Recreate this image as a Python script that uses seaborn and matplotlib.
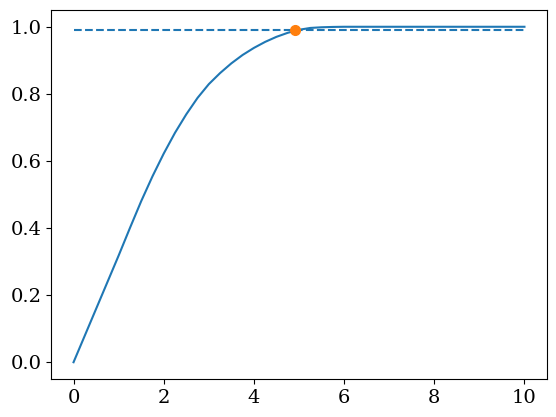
import matplotlib
matplotlib.use("Agg")
import matplotlib.pyplot as plt
import seaborn as sns
import pandas as pd

# values
x_vals = [0, 0.5, 1.0, 1.25, 1.5, 1.75, 2.0, 2.25, 2.5, 2.75, 3.0, 3.25, 3.5,
          3.75, 4.0, 4.25, 4.5, 4.75, 5.0, 5.25, 5.5, 5.75, 6.0, 7.0, 8.0, 9.0, 10.0]
y_vals = [0.0, 0.159, 0.318, 0.400, 0.480, 0.554, 0.622, 0.684, 0.739, 0.788,
          0.829, 0.862, 0.891, 0.916, 0.937, 0.955, 0.970, 0.982, 0.991, 0.9965,
          0.9985, 0.9995, 1.0, 1.0, 1.0, 1.0, 1.0]

level_x = [0, 10]
level_y = [0.99, 0.99]

hit_x = [4.91]
hit_y = [0.99]

plt.rcParams["font.family"] = "DejaVu Serif"
plt.rcParams["font.size"] = 14

df = pd.DataFrame({"x": x_vals, "y": y_vals})

fig = plt.figure(figsize=(5.56, 4.17), dpi=100)
ax = fig.add_axes([51 / 556, 38 / 417, 496 / 556, 369 / 417])

sns.lineplot(data=df, x="x", y="y", ax=ax, color="C0", linewidth=1.5)
ax.plot(level_x, level_y, linestyle="--", color="C0", linewidth=1.5)
ax.plot(hit_x, hit_y, "o", color="C1", markersize=7)

ax.set_xlabel("")
ax.set_ylabel("")
ax.set_xticks([0, 2, 4, 6, 8, 10])
ax.set_yticks([0.0, 0.2, 0.4, 0.6, 0.8, 1.0])

fig.savefig("out.png", dpi=100)
